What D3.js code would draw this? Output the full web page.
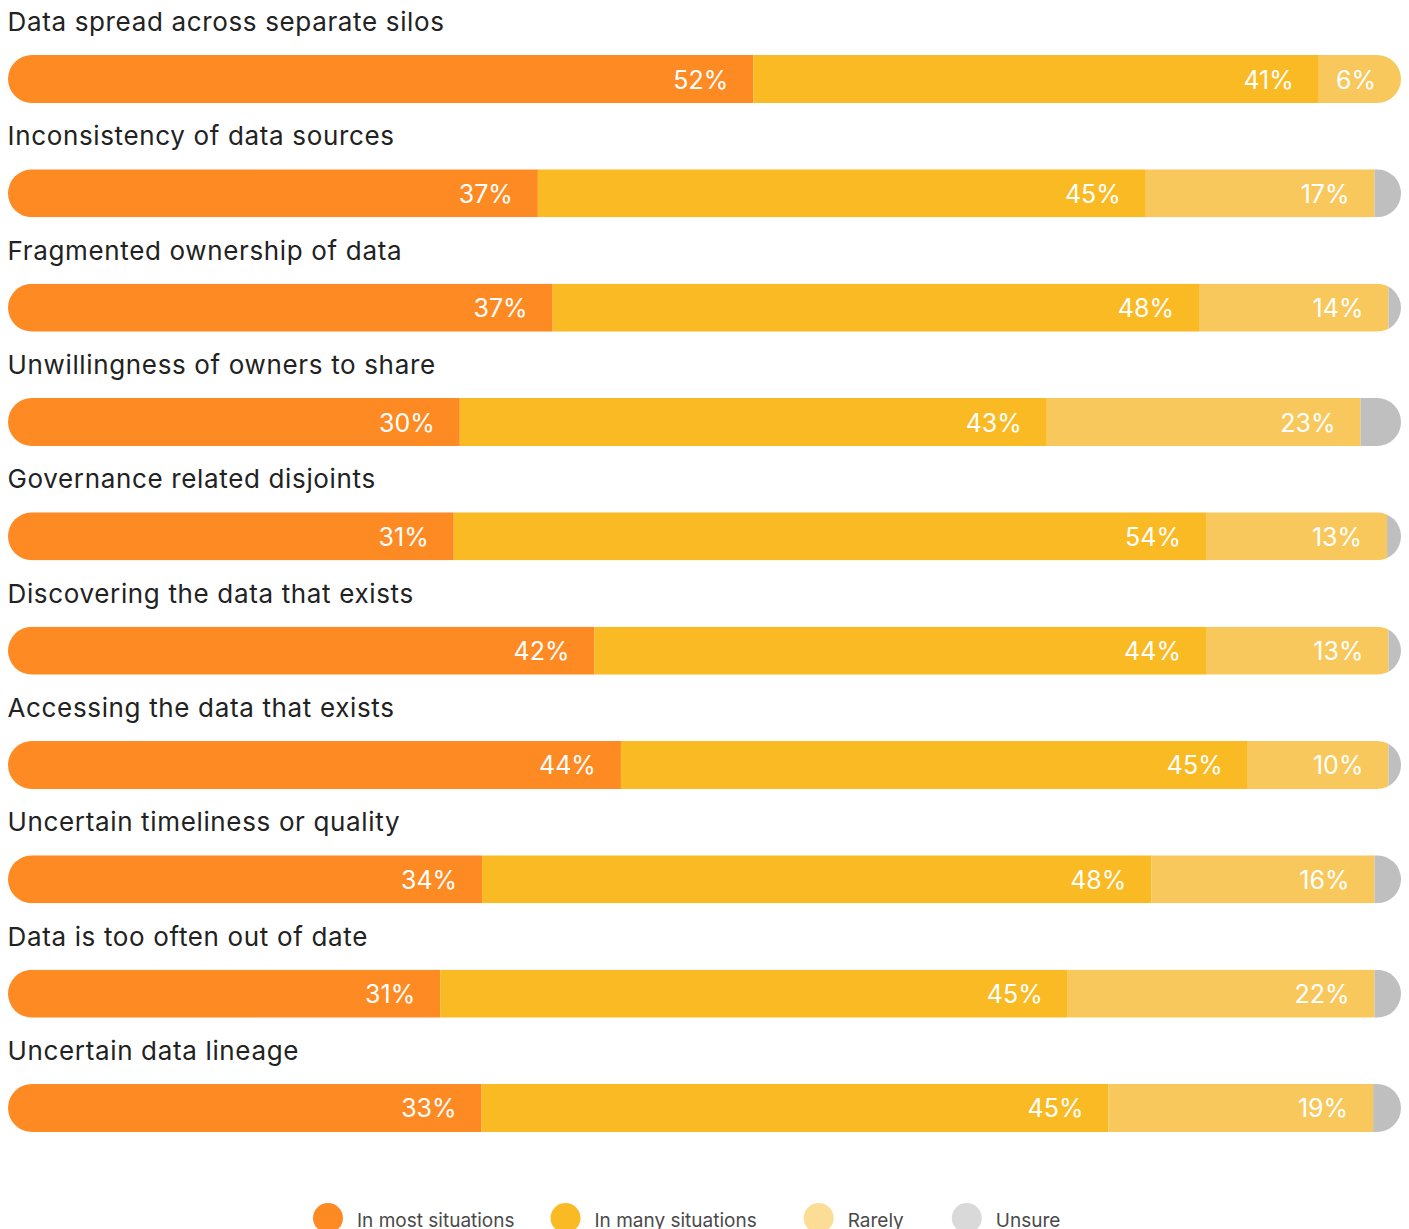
<!DOCTYPE html>
<html><head><meta charset="utf-8">
<script src="https://cdn.jsdelivr.net/npm/d3@7"></script>
<style>
body{margin:0;background:#fff;}
svg text{font-family:Inter,"Noto Sans",sans-serif;}
</style></head>
<body>
<svg id="chart" width="1409" height="1229"></svg>
<script>
const categories = [
  "Data spread across separate silos",
  "Inconsistency of data sources",
  "Fragmented ownership of data",
  "Unwillingness of owners to share",
  "Governance related disjoints",
  "Discovering the data that exists",
  "Accessing the data that exists",
  "Uncertain timeliness or quality",
  "Data is too often out of date",
  "Uncertain data lineage"
];
const seriesNames = ["In most situations", "In many situations", "Rarely", "Unsure"];
// segment shares (as drawn)
const mostValues   = [53.5, 38.0, 39.1, 32.4, 32.0, 42.1, 44.0, 34.0, 31.0, 34.0];
const manyValues   = [40.6, 43.6, 46.4, 42.1, 54.0, 43.9, 45.0, 48.0, 45.0, 45.0];
const rarelyValues = [5.9, 16.4, 13.6, 22.5, 13.0, 13.1, 10.1, 16.0, 22.0, 19.0];
const unsureValues = [0, 1.9, 0.9, 2.9, 1.0, 0.9, 0.9, 1.9, 1.9, 2.0];
// printed labels
const mostLabels   = ["52%", "37%", "37%", "30%", "31%", "42%", "44%", "34%", "31%", "33%"];
const manyLabels   = ["41%", "45%", "48%", "43%", "54%", "44%", "45%", "48%", "45%", "45%"];
const rarelyLabels = ["6%", "17%", "14%", "23%", "13%", "13%", "10%", "16%", "22%", "19%"];

const barColors = ["#fe8a24", "#f9ba24", "#f8c85c", "#bfbfbf"];
const legendColors = ["#fe8a24", "#f9ba24", "#fbdd96", "#d9d9d9"];

const svg = d3.select("#chart");
const left = 8, right = 1401;

const rows = categories.map((c, i) => ({
  cat: c, i,
  vals: [mostValues[i], manyValues[i], rarelyValues[i], unsureValues[i]],
  labels: [mostLabels[i], manyLabels[i], rarelyLabels[i], null]
}));

const y = d3.scaleBand().domain(categories).range([55, 1132]).paddingInner(0.58).paddingOuter(0);

const defs = svg.append("defs");
rows.forEach(r => {
  defs.append("clipPath").attr("id", "clip" + r.i)
    .append("rect")
    .attr("x", left).attr("y", y(r.cat))
    .attr("width", right - left).attr("height", y.bandwidth())
    .attr("rx", y.bandwidth() / 2).attr("ry", y.bandwidth() / 2);
});

const g = svg.append("g");
rows.forEach(r => {
  const total = d3.sum(r.vals);
  const x = d3.scaleLinear().domain([0, total]).range([left, right]);
  let acc = 0;
  const segs = r.vals.map((v, k) => { const s = {k, x0: acc, x1: acc + v, label: r.labels[k]}; acc += v; return s; });
  const row = g.append("g");
  row.append("text")
    .attr("x", left - 0.5).attr("y", y(r.cat) - 24)
    .attr("font-size", 26).attr("fill", "#222").attr("letter-spacing", "0.65px")
    .text(r.cat);
  const bar = row.append("g").attr("clip-path", `url(#clip${r.i})`);
  bar.selectAll("rect").data(segs.filter(s => s.x1 > s.x0)).join("rect")
    .attr("x", s => x(s.x0)).attr("y", y(r.cat))
    .attr("width", s => x(s.x1) - x(s.x0)).attr("height", y.bandwidth())
    .attr("fill", s => barColors[s.k]);
  row.selectAll("text.val").data(segs.filter(s => s.label)).join("text")
    .attr("class", "val")
    .attr("x", s => x(s.x1) - 25).attr("y", y(r.cat) + y.bandwidth() / 2 + 9.5)
    .attr("text-anchor", "end").attr("font-size", 25).attr("fill", "#fff")
    .text(s => s.label);
});

// legend
const lg = svg.append("g");
let lx = 313;
const gaps = [36, 47, 48, 0];
seriesNames.forEach((n, k) => {
  lg.append("circle").attr("cx", lx + 15).attr("cy", 1218).attr("r", 15).attr("fill", legendColors[k]);
  const t = lg.append("text").attr("x", lx + 44).attr("y", 1227).attr("font-size", 19)
    .attr("fill", "#4a4a4a").text(n);
  lx = lx + 44 + t.node().getComputedTextLength() + gaps[k];
});
</script>
</body></html>
